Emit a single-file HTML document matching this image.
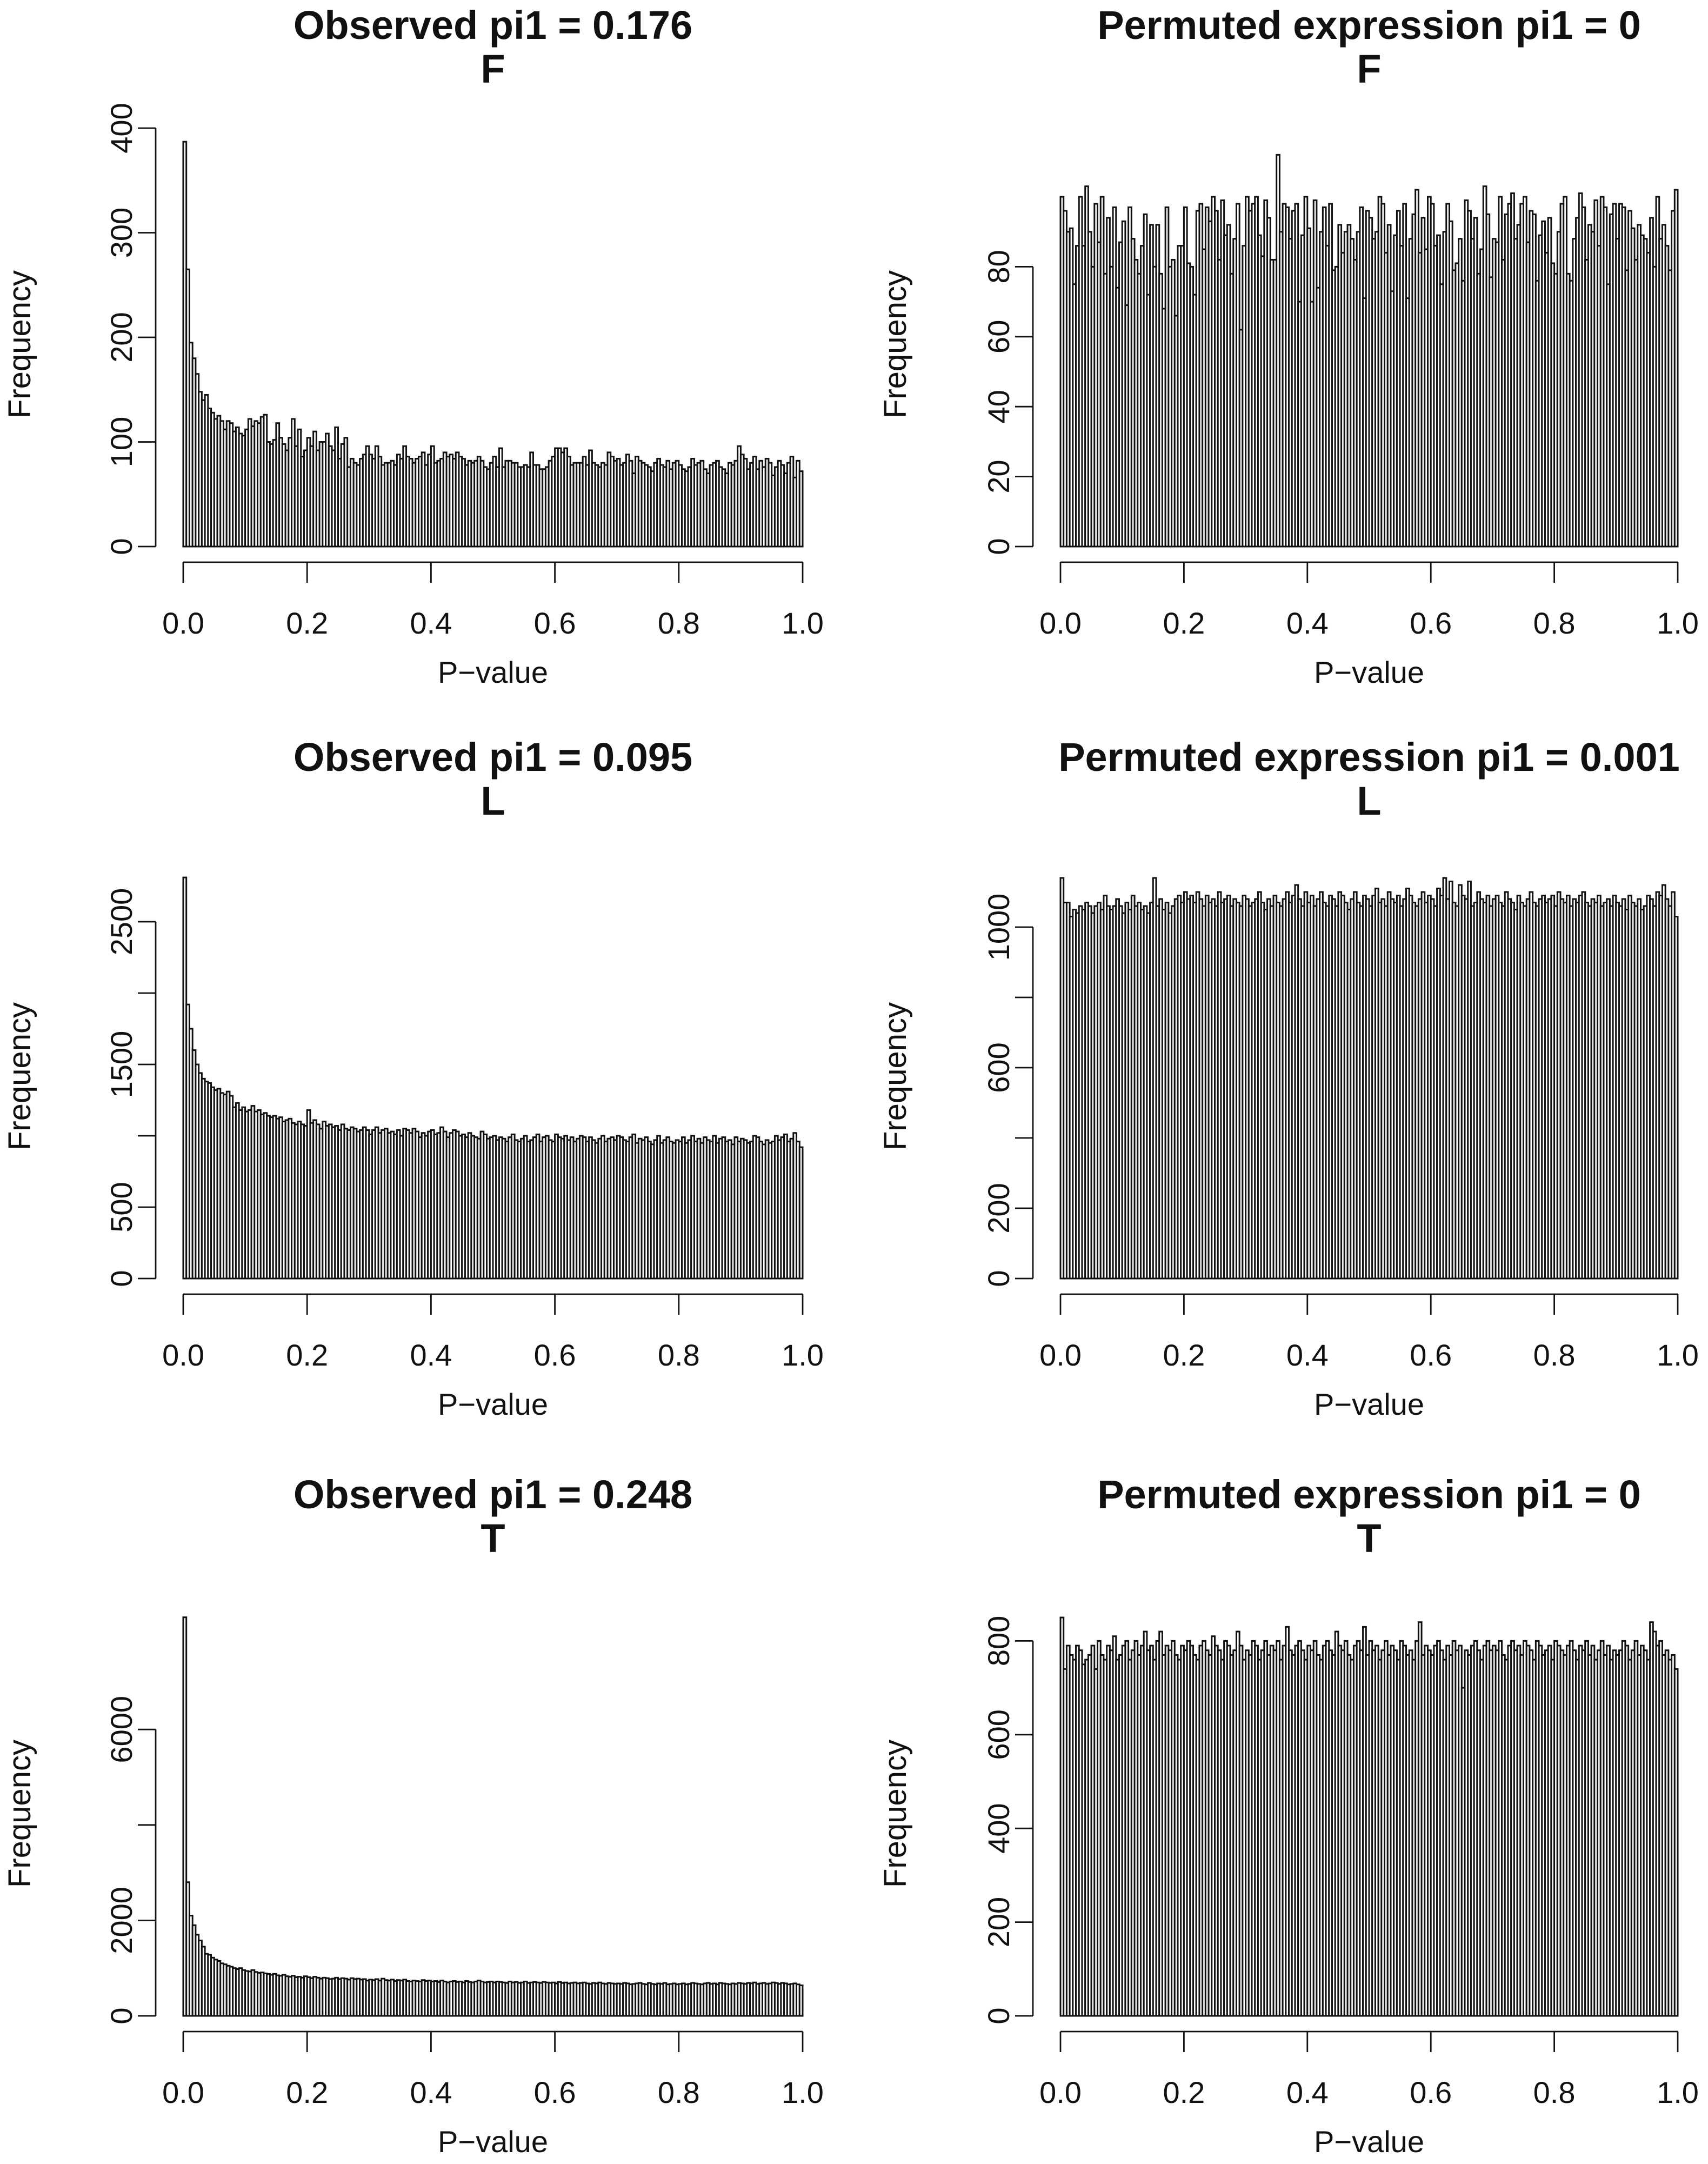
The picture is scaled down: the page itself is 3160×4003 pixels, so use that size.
<!DOCTYPE html>
<html><head><meta charset="utf-8"><style>
html,body{margin:0;padding:0;background:#fff;}
svg{display:block;}
text{font-family:"Liberation Sans",Arial,sans-serif;fill:#111;}
</style></head><body>
<svg id="fig" width="3160" height="4003" viewBox="0 0 3160 4003" xmlns="http://www.w3.org/2000/svg"></svg>
<script>
const obsF = [387,265,195,180,165,148,140,145,132,128,122,125,120,112,120,118,110,114,108,106,
112,122,115,120,118,124,126,100,98,102,118,104,98,92,104,122,96,112,86,92,
104,96,110,92,100,100,108,96,92,114,84,98,104,76,84,80,78,84,88,96,
88,84,96,86,78,80,80,82,78,88,84,96,86,84,80,84,86,90,78,88,
96,80,82,84,90,86,88,84,90,86,84,78,82,80,82,86,82,76,74,80,
86,76,94,76,82,82,80,80,76,76,78,76,90,78,78,74,74,76,82,86,
94,94,90,94,86,78,80,80,80,86,78,92,80,78,76,80,78,90,86,82,
84,78,80,88,82,70,86,82,80,78,76,72,80,84,78,76,82,74,80,82,
78,74,72,76,84,78,80,82,74,70,78,80,82,76,74,70,80,78,82,96,
88,84,74,80,86,74,82,76,84,80,68,76,82,78,70,80,86,66,82,72];
const permF = [100,96,90,91,75,86,100,86,103,90,80,98,87,100,78,94,80,97,74,87,
93,69,97,88,82,78,86,95,72,92,80,92,78,68,97,80,82,66,86,86,
97,81,80,72,96,98,85,97,93,100,96,82,99,89,92,78,88,98,62,86,
100,96,98,100,89,83,99,94,82,82,112,90,98,97,88,96,98,70,89,100,
91,70,99,74,90,97,86,98,79,80,92,84,90,92,88,82,90,97,71,96,
94,88,90,100,98,84,92,73,89,96,86,98,71,88,95,102,84,94,85,100,
98,86,89,75,90,98,93,79,81,88,76,99,96,88,94,78,85,103,95,77,
88,87,100,82,95,98,101,88,92,98,100,87,96,95,76,89,93,84,94,81,
78,90,98,100,78,76,88,94,101,97,82,92,90,99,86,100,97,75,95,98,
88,98,97,79,96,91,82,92,89,88,84,94,80,100,88,92,86,79,96,102];
const obsL = [2810,1920,1750,1600,1500,1440,1400,1380,1370,1340,1320,1330,1300,1290,1310,1280,1200,1230,1180,1200,
1170,1180,1210,1170,1180,1150,1160,1140,1130,1140,1120,1130,1100,1110,1120,1090,1080,1100,1080,1070,
1180,1090,1110,1080,1050,1100,1070,1080,1060,1070,1040,1080,1050,1040,1060,1050,1030,1040,1060,1040,
1010,1040,1060,1020,1040,1050,1020,1030,1010,1040,1000,1050,1040,1020,1050,1030,990,1020,1000,1030,
1040,1010,1020,1060,1030,990,1020,1040,1030,1000,1010,990,1020,1000,990,980,1030,1010,980,990,
1000,970,990,980,960,990,1010,970,960,980,1000,960,970,990,1010,960,990,1000,970,960,
1010,990,980,1000,970,990,960,980,1000,990,960,990,970,950,980,1000,960,980,990,970,
1000,990,970,960,990,1010,950,980,970,990,960,940,970,1000,950,970,990,960,950,970,
960,990,950,970,1000,960,980,950,990,970,960,1000,950,980,990,960,970,940,990,960,
980,970,950,960,1000,990,960,940,970,950,960,1000,970,990,1010,960,980,1020,960,920];
const permL = [1140,1070,1070,1030,1050,1040,1060,1050,1070,1060,1040,1060,1070,1050,1090,1060,1050,1060,1080,1060,
1040,1070,1050,1090,1060,1070,1050,1060,1040,1070,1140,1060,1080,1050,1070,1040,1060,1080,1090,1070,
1100,1080,1090,1070,1100,1080,1060,1090,1070,1080,1060,1100,1070,1080,1090,1060,1080,1070,1060,1090,
1080,1060,1070,1080,1100,1070,1050,1080,1060,1090,1070,1060,1080,1100,1070,1090,1120,1080,1060,1100,
1070,1090,1060,1080,1100,1070,1060,1090,1080,1060,1100,1090,1070,1050,1080,1100,1070,1060,1090,1080,
1060,1090,1110,1070,1080,1060,1100,1080,1070,1090,1060,1080,1110,1090,1070,1060,1080,1100,1070,1090,
1080,1060,1110,1090,1140,1080,1130,1070,1060,1120,1090,1080,1130,1060,1070,1100,1080,1070,1090,1060,
1080,1090,1070,1060,1100,1080,1070,1050,1090,1070,1060,1080,1100,1070,1060,1080,1090,1070,1080,1090,
1060,1100,1080,1070,1090,1060,1080,1070,1090,1100,1070,1060,1080,1070,1090,1060,1070,1080,1060,1090,
1070,1060,1080,1050,1090,1070,1060,1080,1050,1060,1090,1080,1060,1100,1090,1120,1080,1060,1100,1030];
const obsT = [8350,2800,2100,1900,1700,1580,1450,1300,1280,1220,1180,1150,1100,1080,1050,1030,1000,980,1000,960,
940,930,960,920,900,910,890,880,860,880,850,840,860,830,820,840,810,820,800,830,
810,790,820,800,780,800,790,770,780,800,770,790,780,760,790,770,780,760,770,740,
760,750,770,740,780,750,740,760,730,750,740,760,730,720,740,730,720,750,730,740,
720,730,710,740,720,700,720,730,710,720,700,730,710,700,720,740,720,700,710,720,
700,720,710,700,690,720,700,710,690,700,720,690,700,710,700,690,710,700,690,700,
680,710,690,700,680,690,700,680,690,700,680,670,690,680,700,680,670,690,680,670,
680,670,690,680,660,670,680,690,670,660,690,670,660,680,670,690,660,670,680,660,
670,680,660,670,690,680,670,660,680,690,670,680,660,690,680,670,660,680,670,690,
680,670,690,680,700,670,680,690,670,680,700,690,670,690,680,660,670,680,660,640];
const permT = [850,740,790,770,760,790,780,750,760,770,790,740,800,770,760,790,780,810,760,770,
790,800,760,780,800,770,790,820,780,790,760,800,820,770,790,780,800,770,760,790,
780,800,790,770,760,790,800,780,770,810,790,780,760,800,790,770,780,820,790,760,
780,770,800,790,760,780,800,770,790,780,800,760,790,830,780,770,790,800,780,760,
790,780,800,770,760,790,800,780,770,820,790,780,800,770,760,790,800,780,830,770,
800,780,790,760,780,800,770,790,780,760,800,790,770,780,760,800,840,770,790,780,
770,790,800,780,760,790,770,800,780,790,700,780,770,790,800,780,760,790,800,780,
790,780,800,770,760,790,800,780,790,770,800,790,780,760,800,790,770,780,790,760,
800,790,780,770,790,800,780,760,790,780,800,770,790,760,780,800,770,790,760,780,
770,780,800,790,760,780,800,770,790,780,760,840,820,790,800,770,780,760,770,740];
const xTicks = [0,0.2,0.4,0.6,0.8,1.0];
const xTickLabels = ["0.0","0.2","0.4","0.6","0.8","1.0"];

const panels = [
 {name:'observed-f', data:obsF, t1:'Observed pi1 = 0.176', t2:'F', col:0, row:0, k:1.935, ticks:[0,100,200,300,400], labels:[0,100,200,300,400]},
 {name:'permuted-f', data:permF, t1:'Permuted expression pi1 = 0', t2:'F', col:1, row:0, k:6.47, ticks:[0,20,40,60,80], labels:[0,20,40,60,80]},
 {name:'observed-l', data:obsL, t1:'Observed pi1 = 0.095', t2:'L', col:0, row:1, k:0.264, ticks:[0,500,1000,1500,2000,2500], labels:[0,500,1500,2500]},
 {name:'permuted-l', data:permL, t1:'Permuted expression pi1 = 0.001', t2:'L', col:1, row:1, k:0.65, ticks:[0,200,400,600,800,1000], labels:[0,200,600,1000]},
 {name:'observed-t', data:obsT, t1:'Observed pi1 = 0.248', t2:'T', col:0, row:2, k:0.0883, ticks:[0,2000,4000,6000], labels:[0,2000,6000]},
 {name:'permuted-t', data:permT, t1:'Permuted expression pi1 = 0', t2:'T', col:1, row:2, k:0.867, ticks:[0,200,400,600,800], labels:[0,200,400,600,800]}
];
const NS='http://www.w3.org/2000/svg';
const svg=document.getElementById('fig');
function mk(tag,attrs,parent,txt){const e=document.createElementNS(NS,tag);for(const a in attrs)e.setAttribute(a,attrs[a]);if(txt!==undefined)e.textContent=txt;parent.appendChild(e);return e;}
const rowOff=[0,1354,2718];
panels.forEach(p=>{
  const x0 = p.col? 1962:339, x1 = p.col? 3104:1485;
  const oy = rowOff[p.row];
  const base = 1011+oy;
  const ax = p.col? 1911:288;
  const g=mk('g',{},svg);
  
  
  const xs=v=>x0+(x1-x0)*v;
  const ys=v=>base-v*p.k;
  const cx=(x0+x1)/2;
  let t=mk('text',{x:cx,y:72+oy,'text-anchor':'middle','font-size':74,'font-weight':'bold'},g,p.t1);
  
  
  t=mk('text',{x:cx,y:153+oy,'text-anchor':'middle','font-size':74,'font-weight':'bold'},g,p.t2);
  
  
  const bars=mk('g',{fill:'#fff',stroke:'#111','stroke-width':3},g);
  
  
  const n=p.data.length;
  p.data.forEach((v,i)=>{
    const r=mk('rect',{x:xs(i/n),y:ys(v),width:xs((i+1)/n)-xs(i/n),height:base-ys(v)},bars);
    
    
  });
  const xa=mk('g',{stroke:'#111','stroke-width':2.8},g);
  
  
  mk('line',{x1:xs(0),x2:xs(1),y1:1040+oy,y2:1040+oy},xa);
  xTicks.forEach((v,i)=>{
    mk('line',{x1:xs(v),x2:xs(v),y1:1040+oy,y2:1078+oy},xa);
    const l=mk('text',{x:xs(v),y:1172+oy,'text-anchor':'middle','font-size':56,stroke:'none'},g,xTickLabels[i]);
    
    
  });
  t=mk('text',{x:cx,y:1263+oy,'text-anchor':'middle','font-size':56},g,'P\u2212value');
  
  
  const ya=mk('g',{stroke:'#111','stroke-width':2.8},g);
  
  
  mk('line',{x1:ax,x2:ax,y1:ys(p.ticks[0]),y2:ys(p.ticks[p.ticks.length-1])},ya);
  p.ticks.forEach(v=>mk('line',{x1:ax-33,x2:ax,y1:ys(v),y2:ys(v)},ya));
  p.labels.forEach(v=>{
    const lx=ax-44, ly=ys(v);
    const l=mk('text',{x:lx,y:ly,'text-anchor':'middle','font-size':56,transform:`rotate(-90 ${lx} ${ly})`},g,String(v));
    
    
  });
  const fx=(p.col?1676:56), fy=637+oy;
  t=mk('text',{x:fx,y:fy,'text-anchor':'middle','font-size':58,transform:`rotate(-90 ${fx} ${fy})`},g,'Frequency');
  
  
});
</script>
</body></html>
